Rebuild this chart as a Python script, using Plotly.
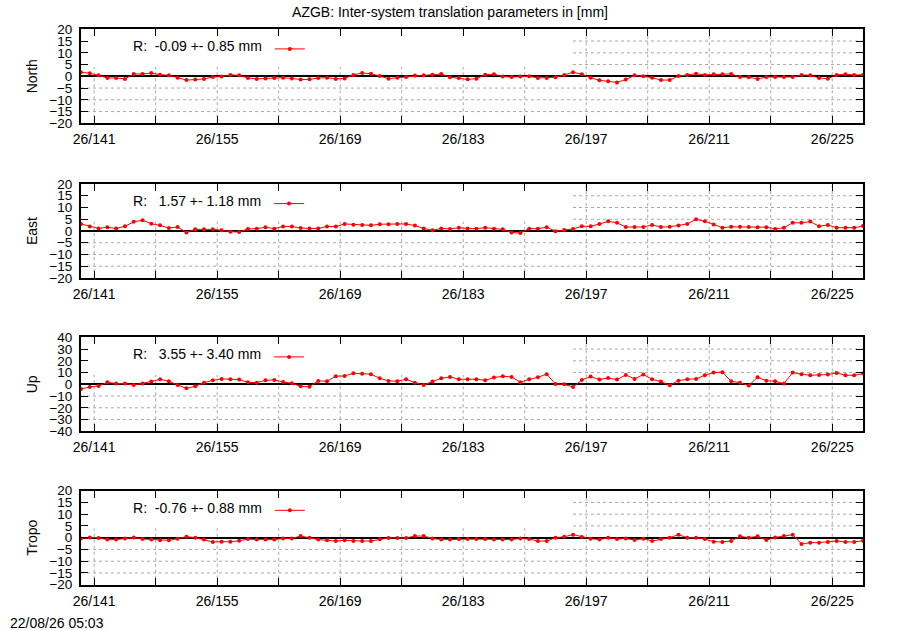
import plotly.graph_objects as go

# day of year (noon) for each daily solution
doy = [d + 0.5 for d in range(139, 229)]

north = [1.7, 1.3, 0.4, -0.7, -0.7, -1.1, 1.0, 1.0, 1.4, 0.7,
         0.4, -0.6, -1.6, -1.4, -1.1, -0.3, -0.1, 0.6, 0.4, -0.7,
         -1.1, -0.9, -0.7, -0.6, -0.9, -1.4, -1.3, -0.7, -0.6, -1.1,
         -0.9, 0.6, 1.4, 1.1, 0.1, -1.0, -0.6, -0.3, 0.3, 0.4,
         0.7, 1.0, -0.4, -0.7, -1.3,
         -1.0, 0.7, 0.9, -0.1, -0.3, -0.1, 0.0, -0.7, -0.7, -0.4,
         0.6, 1.7, 0.9, -0.6, -1.7, -2.1, -2.6, -1.4, 0.4, 0.0,
         -0.6, -1.6, -1.6, 0.1, 0.6, 1.1, 0.6, 0.9, 0.9, 1.0,
         -0.3, -0.4, -1.1, -0.3, -0.3, -0.3, -0.3, 0.6, 0.4, -0.7,
         -1.0, 0.6, 0.9, 0.6, 0.6]

east = [3.0, 1.9, 1.1, 1.6, 1.1, 2.0, 3.9, 4.6, 3.1, 2.4,
        1.3, 1.7, -0.6, 0.7, 0.7, 0.7, 0.3, -0.3, -0.4, 0.9,
        1.0, 1.6, 1.0, 1.9, 1.9, 1.3, 1.1, 1.1, 1.9, 1.9,
        3.0, 2.7, 2.6, 2.4, 2.9, 2.9, 3.0, 3.0, 2.3, 1.1,
        0.3, 1.1, 0.9, 1.4, 1.1,
        1.0, 1.4, 1.0, 0.7, -0.6, -0.9, 1.0, 1.0, 1.6, -0.1,
        0.4, 0.9, 2.0, 2.0, 3.0, 4.1, 3.5, 1.7, 1.7, 1.7,
        2.6, 1.7, 1.8, 2.3, 3.0, 5.0, 4.1, 2.8, 1.4, 1.8,
        1.8, 1.7, 1.6, 1.6, 0.9, 1.4, 3.5, 3.5, 4.0, 2.0,
        2.6, 1.4, 1.4, 1.4, 2.1]

up = [-4.0, -2.3, -1.4, 1.7, 0.6, 0.6, -0.6, 0.6, 2.3, 4.3,
      2.6, -0.6, -3.4, -1.7, 1.4, 3.4, 4.6, 4.3, 4.0, 1.7,
      1.4, 3.4, 3.7, 2.0, 0.9, -1.7, -2.0, 2.9, 2.6, 6.9,
      7.1, 9.4, 8.9, 8.6, 5.1, 2.9, 2.6, 4.3, 1.4, -0.6,
      2.3, 5.1, 6.3, 4.3, 4.3,
      4.3, 3.4, 5.7, 6.9, 6.3, 1.7, 4.3, 6.0, 8.6, 0.3,
      0.0, -2.3, 3.7, 6.6, 4.0, 5.4, 4.0, 8.0, 4.6, 8.3,
      4.3, 2.3, -0.9, 3.1, 4.3, 4.6, 7.7, 10.0, 10.3, 2.6,
      1.4, -1.1, 6.0, 3.1, 2.6, 0.6, 10.0, 8.6, 7.7, 8.0,
      8.3, 9.7, 7.7, 7.7, 9.1]

tropo = [-0.3, 0.1, -0.1, -0.8, -0.8, -0.3, 0.1, -0.6, -0.8, -1.1,
         -1.1, -0.4, 0.4, 0.0, -0.8, -1.8, -1.7, -1.7, -1.3, -0.6,
         -0.8, -0.8, -0.8, -0.3, -0.3,
         0.7, 0.0, -0.8, -1.1, -1.4, -1.1, -1.4, -1.4, -1.4, -0.7,
         -0.1, -0.1, -0.1, 0.7, 0.7, -0.3, -0.8, -0.8, -0.6, -0.6,
         -0.6, -0.6, -0.8, -0.8, -0.8, -0.3, -0.6, -1.4, -1.4,
         0.0, 0.4, 1.3, 0.3, -0.4, -0.8, 0.0, -0.6, -0.3, -1.0,
         -0.4, -1.4, -0.6, 0.0, 1.3, 0.0, 0.0, -0.6, -1.7, -1.8,
         -1.4, 0.6, 0.0, 0.6, -1.0, 0.1, 0.7, 1.3, -2.7, -2.1,
         -2.1, -1.8, -1.4, -1.8, -1.8, -1.3]

panel_names = ["North", "East", "Up", "Tropo"]
panel_stats = ["R:\u00a0\u00a0-0.09 +- 0.85 mm",
               "R:\u00a0\u00a0\u00a01.57 +- 1.18 mm",
               "R:\u00a0\u00a0\u00a03.55 +- 3.40 mm",
               "R:\u00a0\u00a0-0.76 +- 0.88 mm"]
panel_ylim = [20, 20, 40, 20]
panel_dtick = [5, 5, 10, 5]
grid_y20 = [-15, -10, -5, 5, 10, 15]
grid_y40 = [-30, -20, -10, 10, 20, 30]
panel_grid_y = [grid_y20, grid_y20, grid_y40, grid_y20]

xtick_vals = [141, 148, 155, 162, 169, 176, 183, 190, 197, 204, 211, 218, 225]
xtick_text = ["26/141", "", "26/155", "", "26/169", "", "26/183", "",
              "26/197", "", "26/211", "", "26/225"]

title = "AZGB: Inter-system translation parameters in [mm]"
stamp = "22/08/26 05:03"

FONT = "Liberation Sans"
H, T, B = 630, 29, 45
plot_h = H - T - B
panel_px = 94
tops = [29.3, 184.0, 337.3, 490.7]
grid_line = dict(color="#a8a8a8", width=1, dash="dot")

fig = go.Figure()
series = [north, east, up, tropo]
annotations = []
shapes = []
layout = {}

for i, (name, ys) in enumerate(zip(panel_names, series)):
    n = i + 1
    sfx = "" if n == 1 else str(n)
    top = 1 - (tops[i] - T) / plot_h
    bot = top - panel_px / plot_h
    fig.add_trace(go.Scatter(x=doy, y=ys, mode="lines+markers",
                             name="", showlegend=True,
                             line=dict(color="#ff0000", width=1),
                             marker=dict(color="#ff0000", size=4),
                             xaxis="x" + sfx, yaxis="y" + sfx,
                             legend="legend" + sfx))
    axis_common = dict(ticks="inside", ticklen=7, tickwidth=1, tickcolor="black",
                       showline=True, linecolor="black", linewidth=2,
                       mirror="ticks", showgrid=False)
    layout["xaxis" + sfx] = dict(axis_common, range=[139.5, 228.5],
                                 tickmode="array", tickvals=xtick_vals,
                                 ticktext=xtick_text, zeroline=False,
                                 anchor="y" + sfx, domain=[0, 1],
                                 ticklabelstandoff=2,
                                 tickfont=dict(family=FONT, size=14, color="black"))
    layout["yaxis" + sfx] = dict(axis_common,
                                 range=[-panel_ylim[i], panel_ylim[i]],
                                 dtick=panel_dtick[i], tick0=0,
                                 zeroline=True, zerolinecolor="black",
                                 zerolinewidth=2, anchor="x" + sfx,
                                 domain=[bot, top], ticklabelstandoff=4,
                                 tickfont=dict(family=FONT, size=13.5, color="black"))
    layout["legend" + sfx] = dict(
        title=dict(text=panel_stats[i], side="left",
                   font=dict(family=FONT, size=14, color="black")),
        x=0.064, xanchor="left", y=top - 20 / plot_h, yanchor="middle",
        bgcolor="rgba(0,0,0,0)", borderwidth=0,
        font=dict(family=FONT, size=14, color="black"))
    # dotted grid at the tick positions
    for xv in xtick_vals:
        shapes.append(dict(type="line", xref="x" + sfx, yref="y%s domain" % sfx,
                           x0=xv, x1=xv, y0=0, y1=1, line=grid_line,
                           layer="below"))
    for yv in panel_grid_y[i]:
        shapes.append(dict(type="line", xref="x%s domain" % sfx, yref="y" + sfx,
                           x0=0, x1=1, y0=yv, y1=yv, line=grid_line,
                           layer="below"))
    # opaque key box hiding the grid behind it
    shapes.append(dict(type="rect", xref="x%s domain" % sfx,
                       yref="y%s domain" % sfx, x0=0, x1=0.629, y0=0.6, y1=1,
                       fillcolor="white", line=dict(width=0), layer="below"))
    annotations.append(dict(text=name, textangle=-90, xref="paper", yref="paper",
                            x=-0.0626, y=(top + bot) / 2, xanchor="center",
                            yanchor="middle", showarrow=False,
                            font=dict(family=FONT, size=14, color="black")))

annotations.append(dict(text=stamp, xref="paper", yref="paper",
                        x=-0.0933, y=-(623 - (H - B)) / plot_h,
                        xanchor="left", yanchor="middle", showarrow=False,
                        font=dict(family=FONT, size=14, color="black")))

fig.update_layout(**layout)
fig.update_layout(
    width=900, height=H, autosize=False,
    margin=dict(l=81, r=37, t=T, b=B),
    paper_bgcolor="white", plot_bgcolor="white",
    title=dict(text=title, x=0.5, xref="container", xanchor="center",
               y=1 - 12 / H, yanchor="middle",
               font=dict(family=FONT, size=14, color="black")),
    annotations=annotations, shapes=shapes,
)

fig.write_html("out.html", config={"displayModeBar": False},
               post_script="document.body.style.margin = '0px';")
